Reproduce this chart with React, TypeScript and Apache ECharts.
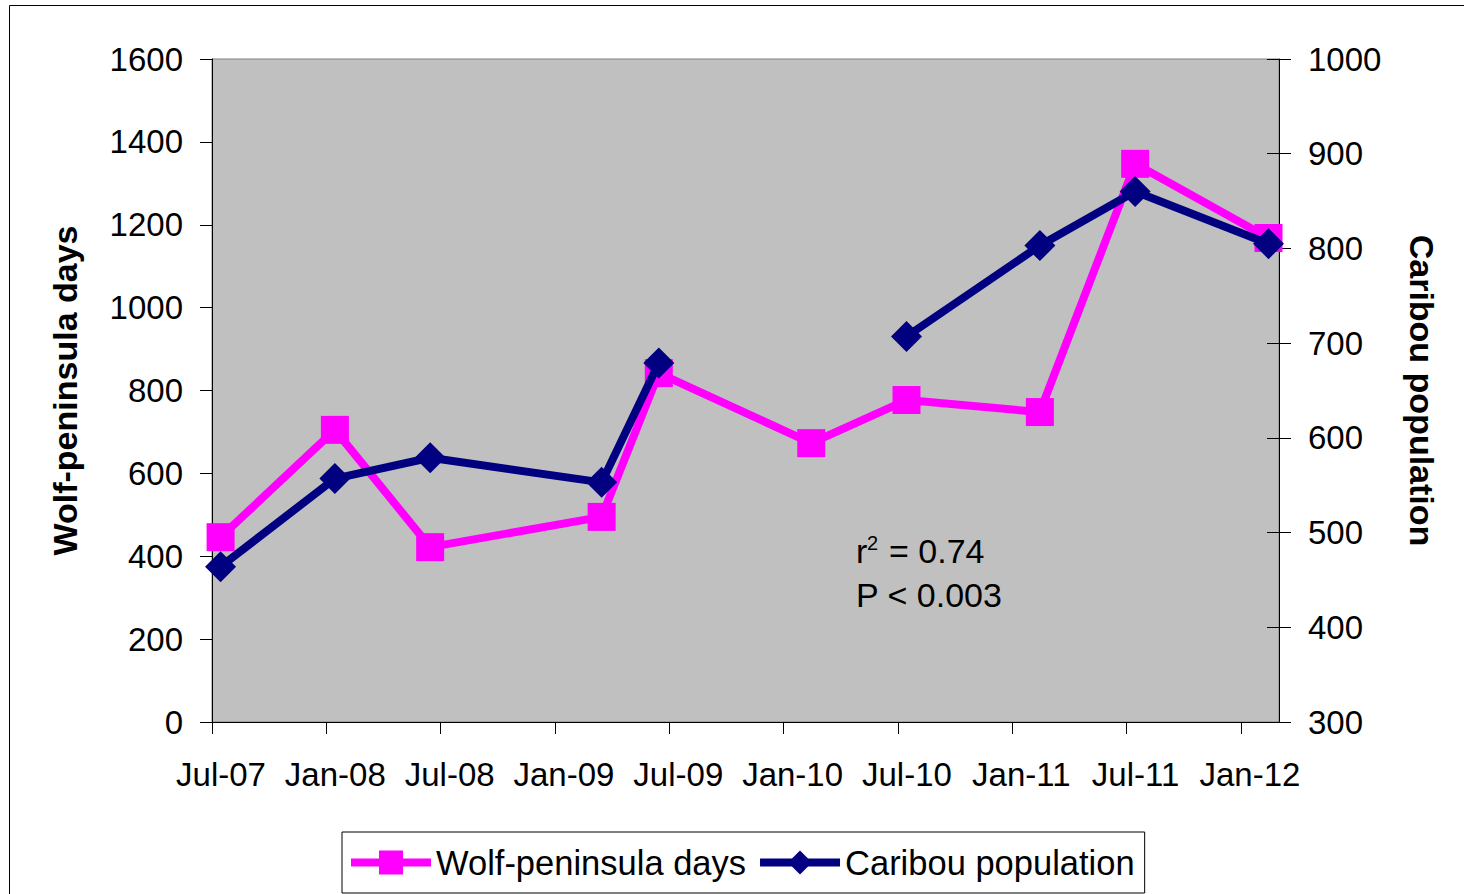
import React, { useEffect, useRef } from "react";
import * as echarts from "echarts";

// Sample dates as months since Jul-2007 (mid-month samples)
const sampleMonths = [0.45, 6.45, 11.45, 20.45, 23.45, 31.45, 36.45, 43.45, 48.45, 55.45];
const wolfDays = [446, 705, 422, 495, 842, 673, 777, 748, 1347, 1168];
const caribouPop: (number | null)[] = [464, 557, 579, 553, 679, null, 707, 803, 860, 805];

const tickMonths = [0, 6, 12, 18, 24, 30, 36, 42, 48, 54];
const tickLabels = ["Jul-07", "Jan-08", "Jul-08", "Jan-09", "Jul-09", "Jan-10", "Jul-10", "Jan-11", "Jul-11", "Jan-12"];

const FONT = "'Liberation Sans', Arial, sans-serif";

export default function App() {
  const ref = useRef<HTMLDivElement>(null);
  useEffect(() => {
    if (!ref.current) return;
    const chart = echarts.init(ref.current, null, { renderer: "svg" });
    const wolfData = sampleMonths.map((m, i) => [m, wolfDays[i]]);
    const caribouData = sampleMonths.map((m, i) => [m, caribouPop[i] == null ? "-" : caribouPop[i]]);
    chart.setOption({
      animation: false,
      backgroundColor: "#ffffff",
      textStyle: { fontFamily: FONT },
      grid: {
        left: 212,
        top: 59,
        right: 185,
        bottom: 172,
        show: true,
        backgroundColor: "#C0C0C0",
        borderColor: "#808080",
        borderWidth: 1,
        containLabel: false,
      },
      xAxis: {
        type: "value",
        min: 0,
        max: 56,
        interval: 6,
        splitLine: { show: false },
        axisLine: { show: true, onZero: false, lineStyle: { color: "#000", width: 1 } },
        axisTick: { show: true, length: 12, inside: false, lineStyle: { color: "#000" }, customValues: tickMonths },
        axisLabel: {
          customValues: tickMonths,
          formatter: (v: number) => {
            const idx = tickMonths.indexOf(Math.round(v));
            return idx >= 0 ? tickLabels[idx] : "";
          },
          fontSize: 33,
          color: "#000",
          fontFamily: FONT,
          margin: 36,
          padding: [0, 0, 0, 18],
        },
      },
      yAxis: [
        {
          type: "value",
          position: "left",
          min: 0,
          max: 1600,
          interval: 200,
          name: "Wolf-peninsula days",
          nameLocation: "middle",
          nameRotate: 90,
          nameGap: 130,
          nameTextStyle: { fontSize: 34, fontWeight: "bold", color: "#000", fontFamily: FONT },
          splitLine: { show: false },
          axisLine: { show: true, lineStyle: { color: "#000", width: 1 } },
          axisTick: { show: true, length: 12, lineStyle: { color: "#000" } },
          axisLabel: { fontSize: 33, color: "#000", margin: 29, fontFamily: FONT, formatter: (v: number) => String(v) },
        },
        {
          type: "value",
          position: "right",
          min: 300,
          max: 1000,
          interval: 100,
          name: "Caribou population",
          nameLocation: "middle",
          nameRotate: -90,
          nameGap: 126,
          nameTextStyle: { fontSize: 34, fontWeight: "bold", color: "#000", fontFamily: FONT },
          splitLine: { show: false },
          axisLine: { show: true, lineStyle: { color: "#000", width: 1 } },
          axisTick: { show: true, length: 12, lineStyle: { color: "#000" } },
          axisLabel: { fontSize: 33, color: "#000", margin: 29, fontFamily: FONT, formatter: (v: number) => String(v) },
        },
        {
          type: "value",
          position: "right",
          min: 300,
          max: 1000,
          interval: 100,
          splitLine: { show: false },
          axisLine: { show: false },
          axisTick: { show: true, inside: true, length: 12, lineStyle: { color: "#000" } },
          axisLabel: { show: false },
        },
      ],
      legend: {
        left: 342,
        top: 832,
        orient: "horizontal",
        padding: [13, 10, 13, 5],
        itemWidth: 80,
        itemHeight: 30,
        itemGap: 10,
        borderColor: "#000",
        borderWidth: 1,
        backgroundColor: "#fff",
        lineStyle: { width: 8 },
        textStyle: { fontSize: 34.5, color: "#000", fontFamily: FONT },
        data: ["Wolf-peninsula days", "Caribou population"],
      },
      graphic: [
        {
          type: "rect",
          shape: { x: 9.5, y: 5.5, width: 1470, height: 900 },
          style: { fill: "none", stroke: "#000", lineWidth: 1 },
          z: -10,
          silent: true,
        },
        {
          type: "text",
          x: 856,
          y: 551,
          style: { text: "r", font: `34px ${FONT}`, fill: "#000", textAlign: "left", textVerticalAlign: "middle" },
          z: 100,
        },
        {
          type: "text",
          x: 867,
          y: 543,
          style: { text: "2", font: `20px ${FONT}`, fill: "#000", textAlign: "left", textVerticalAlign: "middle" },
          z: 100,
        },
        {
          type: "text",
          x: 889,
          y: 551,
          style: { text: "= 0.74", font: `34px ${FONT}`, fill: "#000", textAlign: "left", textVerticalAlign: "middle" },
          z: 100,
        },
        {
          type: "text",
          x: 856,
          y: 595,
          style: { text: "P < 0.003", font: `34px ${FONT}`, fill: "#000", textAlign: "left", textVerticalAlign: "middle" },
          z: 100,
        },
      ],
      series: [
        {
          name: "Wolf-peninsula days",
          type: "line",
          yAxisIndex: 0,
          data: wolfData,
          symbol: "rect",
          symbolSize: 28,
          itemStyle: { color: "#FF00FF" },
          lineStyle: { color: "#FF00FF", width: 8 },
          clip: false,
          z: 2,
        },
        {
          name: "Caribou population",
          type: "line",
          yAxisIndex: 1,
          data: caribouData,
          connectNulls: false,
          symbol: "diamond",
          symbolSize: 31,
          itemStyle: { color: "#000080" },
          lineStyle: { color: "#000080", width: 8 },
          clip: false,
          z: 3,
        },
      ],
    });
    return () => chart.dispose();
  }, []);
  return (
    <div
      ref={ref}
      style={{ position: "fixed", left: 0, top: 0, width: 1464, height: 894 }}
    />
  );
}
